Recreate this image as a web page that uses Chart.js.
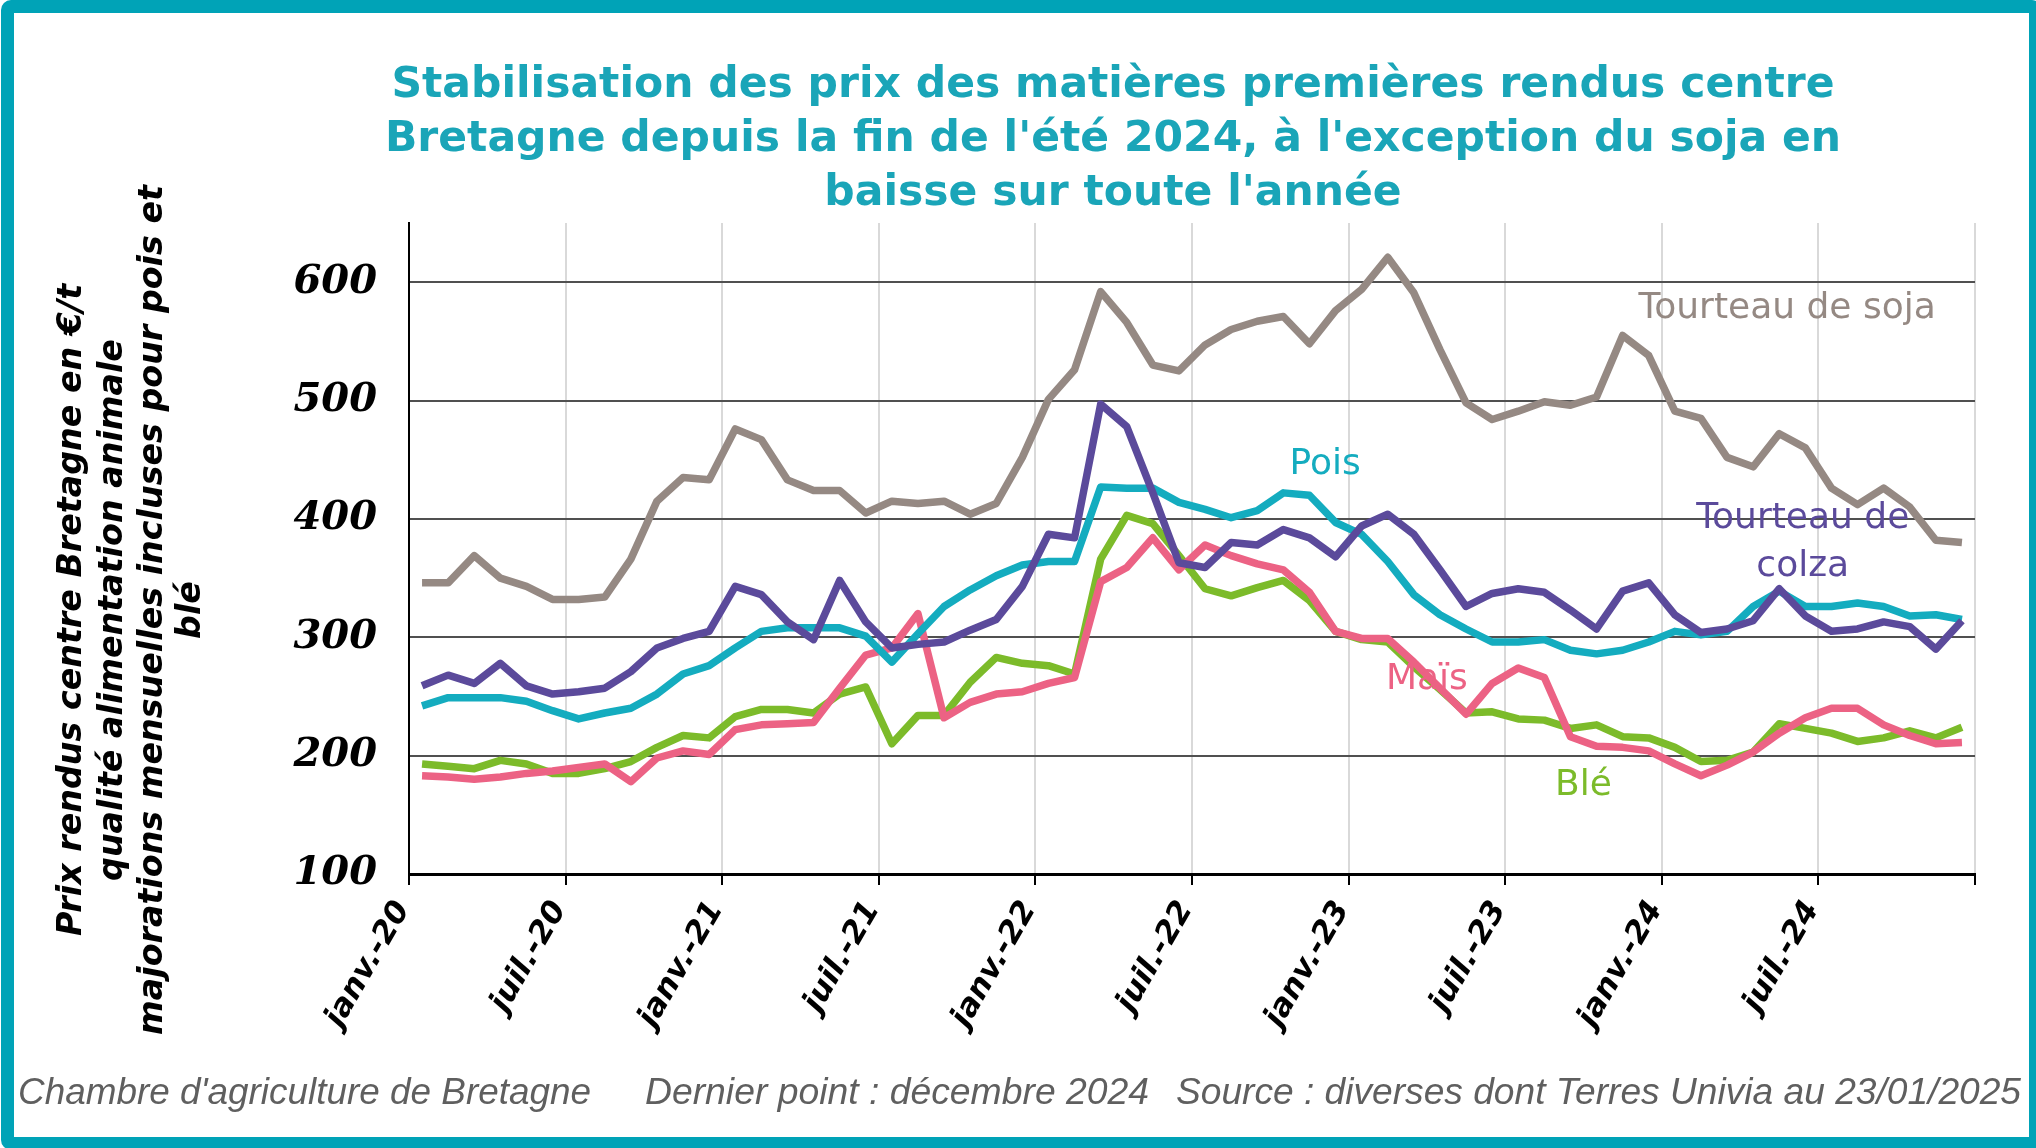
<!DOCTYPE html>
<html>
<head>
<meta charset="utf-8">
<script src="https://cdn.jsdelivr.net/npm/chart.js@4.4.1/dist/chart.umd.min.js"></script>
<style>
  html, body { margin: 0; padding: 0; background: #fff; }
  #wrap { position: relative; width: 2036px; height: 1148px; overflow: hidden; background: #fff; }
  #frame { position: absolute; left: 1px; top: 0; width: 2041px; height: 1150px; box-sizing: border-box;
           border: 13px solid #00a3b7; border-radius: 10px; pointer-events: none; }
</style>
</head>
<body>
<div id="wrap">
  <canvas id="prix" width="2036" height="1148"></canvas>
  <div id="frame"></div>
</div>
<script>
// months, janv.-20 .. déc.-24
const monthNames = ["janv.", "févr.", "mars", "avr.", "mai", "juin", "juil.", "août", "sept.", "oct.", "nov.", "déc."];
const years = ["20", "21", "22", "23", "24"];
const categories = years.flatMap(y => monthNames.map(m => m + "-" + y));

const tickLabels = ["janv.-20", "juil.-20", "janv.-21", "juil.-21", "janv.-22",
                    "juil.-22", "janv.-23", "juil.-23", "janv.-24", "juil.-24"];

// prix en €/t
const soja = [346, 346, 369, 350, 343, 332, 332, 334, 366, 415, 435, 433,
              476, 467, 433, 424, 424, 405, 415, 413, 415, 404, 413, 452,
              501, 526, 592, 566, 530, 525, 547, 560, 567, 571, 548, 576,
              594, 621, 591, 543, 498, 484, 491, 499, 496, 503, 555, 538,
              491, 485, 452, 444, 472, 460, 426, 412, 426, 410, 382, 380];
const colza = [259, 268, 261, 278, 259, 252, 254, 257, 271, 291, 299, 305,
               343, 336, 313, 298, 348, 313, 291, 294, 296, 306, 315, 343,
               387, 384, 497, 478, 422, 363, 359, 380, 378, 391, 384, 368,
               394, 404, 387, 357, 326, 337, 341, 338, 323, 307, 339, 346,
               319, 304, 307, 314, 341, 318, 305, 307, 313, 309, 290, 314];
const pois = [242, 249, 249, 249, 246, 238, 231, 236, 240, 252, 269, 276,
              291, 305, 308, 308, 308, 301, 279, 303, 326, 340, 352, 361,
              364, 364, 427, 426, 426, 414, 408, 401, 407, 422, 420, 397,
              387, 364, 336, 319, 307, 296, 296, 298, 289, 286, 289, 296,
              305, 302, 305, 326, 339, 326, 326, 329, 326, 318, 319, 315];
const mais = [183, 182, 180, 182, 185, 187, 190, 193, 178, 198, 204, 201,
              222, 226, 227, 228, 257, 285, 291, 320, 232, 245, 252, 254,
              261, 266, 347, 359, 384, 357, 378, 369, 362, 357, 338, 305,
              299, 299, 279, 257, 235, 261, 274, 266, 216, 208, 207, 204,
              193, 183, 192, 203, 219, 232, 240, 240, 226, 217, 210, 211];
const ble = [193, 191, 189, 196, 193, 185, 185, 189, 195, 207, 217, 215,
             233, 239, 239, 236, 252, 258, 210, 234, 234, 262, 283, 278,
             276, 269, 366, 403, 396, 369, 341, 335, 342, 348, 331, 305,
             298, 296, 275, 256, 236, 237, 231, 230, 223, 226, 216, 215,
             207, 195, 196, 203, 227, 223, 219, 212, 215, 221, 215, 224];

const series = [
  { label: "Tourteau de soja", values: soja, color: "#958983" },
  { label: "Tourteau de colza", values: colza, color: "#5b4a9b" },
  { label: "Pois", values: pois, color: "#14acbf" },
  { label: "Maïs", values: mais, color: "#ec6284" },
  { label: "Blé", values: ble, color: "#7cbb2a" }
];

// étiquettes posées dans le graphique (coordonnées en mois / €/t)
const seriesTags = [
  { lines: ["Tourteau de soja"], x: 52.8, y: 578, color: "#958983" },
  { lines: ["Pois"], x: 35.1, y: 446, color: "#14acbf" },
  { lines: ["Tourteau de", "colza"], x: 53.4, y: 400, color: "#5b4a9b" },
  { lines: ["Maïs"], x: 39.0, y: 264, color: "#ec6284" },
  { lines: ["Blé"], x: 45.0, y: 175, color: "#7cbb2a" }
];

const titleLines = ["Stabilisation des prix des matières premières rendus centre",
                    "Bretagne depuis la fin de l'été 2024, à l'exception du soja en",
                    "baisse sur toute l'année"];
const yTitleLines = ["Prix rendus centre Bretagne en €/t",
                     "qualité alimentation animale",
                     "majorations mensuelles incluses pour pois et",
                     "blé"];
const footer = [
  { text: "Chambre d'agriculture de Bretagne", x0: 18, x1: 591 },
  { text: "Dernier point : décembre 2024", x0: 645, x1: 1149 },
  { text: "Source : diverses dont Terres Univia au 23/01/2025", x0: 1176, x1: 2021 }
];

function fitSize(ctx, text, family, weight, style, target) {
  ctx.font = style + " " + weight + " 40px " + family;
  return 40 * target / ctx.measureText(text).width;
}

const decor = {
  id: "decor",
  beforeDraw(chart) {
    const ctx = chart.ctx;
    ctx.save();
    ctx.fillStyle = "#fff";
    ctx.fillRect(0, 0, chart.width, chart.height);
    ctx.restore();
  },
  afterDatasetsDraw(chart) {
    const ctx = chart.ctx;
    const xs = chart.scales.x, ys = chart.scales.y;
    ctx.save();
    ctx.font = "36px 'DejaVu Sans'";
    ctx.textAlign = "center";
    ctx.textBaseline = "middle";
    seriesTags.forEach(t => {
      ctx.fillStyle = t.color;
      const px = xs.getPixelForValue(t.x);
      t.lines.forEach((l, i) => {
        ctx.fillText(l, px, ys.getPixelForValue(t.y) + i * 48);
      });
    });
    ctx.restore();
  },
  afterDraw(chart) {
    const ctx = chart.ctx;
    ctx.save();

    // titre
    const tSize = fitSize(ctx, titleLines[0], "'DejaVu Sans'", "bold", "normal", 1444);
    ctx.font = "bold " + tSize.toFixed(1) + "px 'DejaVu Sans'";
    ctx.fillStyle = "#1aa5b8";
    ctx.textAlign = "center";
    ctx.textBaseline = "alphabetic";
    titleLines.forEach((l, i) => ctx.fillText(l, 1113, 97 + i * 54));

    // titre de l'axe vertical
    const ySize = fitSize(ctx, yTitleLines[2], "'DejaVu Sans'", "bold", "italic", 850);
    ctx.font = "italic bold " + ySize.toFixed(1) + "px 'DejaVu Sans'";
    ctx.fillStyle = "#000";
    ctx.textBaseline = "middle";
    [72, 113, 153, 191].forEach((x, i) => {
      ctx.save();
      ctx.translate(x, 610);
      ctx.rotate(-Math.PI / 2);
      ctx.fillText(yTitleLines[i], 0, 0);
      ctx.restore();
    });

    // pied
    ctx.font = "italic 37px 'Liberation Sans'";
    ctx.fillStyle = "#5f5f5f";
    ctx.textAlign = "left";
    ctx.textBaseline = "alphabetic";
    footer.forEach(f => {
      const w = ctx.measureText(f.text).width;
      ctx.save();
      ctx.translate(f.x0, 1104);
      ctx.scale((f.x1 - f.x0) / w, 1);
      ctx.fillText(f.text, 0, 0);
      ctx.restore();
    });
    ctx.restore();
  }
};

new Chart(document.getElementById("prix"), {
  type: "line",
  data: {
    datasets: series.map(s => ({
      label: s.label,
      data: categories.map((c, i) => ({ x: i + 0.5, y: s.values[i] })),
      borderColor: s.color,
      backgroundColor: s.color,
      borderWidth: 7.5,
      pointRadius: 0,
      tension: 0,
      borderJoinStyle: "round",
      fill: false
    }))
  },
  options: {
    responsive: false,
    animation: false,
    devicePixelRatio: 1,
    layout: { padding: { left: 0, right: 61, top: 223, bottom: 0 } },
    plugins: { legend: { display: false }, tooltip: { enabled: false } },
    scales: {
      x: {
        type: "linear",
        min: 0,
        max: 60,
        afterFit: s => { s.height = 274; },
        border: { color: "#000", width: 3 },
        grid: { color: "#d9d9d9", lineWidth: 2, tickColor: "#000", tickWidth: 2, tickLength: 11 },
        ticks: {
          stepSize: 6,
          autoSkip: false,
          minRotation: 60,
          maxRotation: 60,
          padding: 10,
          labelOffset: -6,
          color: "#000",
          font: { family: "'DejaVu Sans'", size: 31, weight: "bold", style: "italic" },
          callback: v => tickLabels[Math.round(v / 6)] || ""
        }
      },
      y: {
        min: 100,
        max: 650,
        afterFit: s => { s.width = 409; },
        border: { color: "#000", width: 2 },
        grid: { color: "#505050", lineWidth: 2, drawTicks: false },
        ticks: {
          stepSize: 100,
          includeBounds: false,
          padding: 32,
          color: "#000",
          font: { family: "'DejaVu Serif'", size: 40, weight: "bold", style: "italic" }
        }
      }
    }
  },
  plugins: [decor]
});
</script>
</body>
</html>
